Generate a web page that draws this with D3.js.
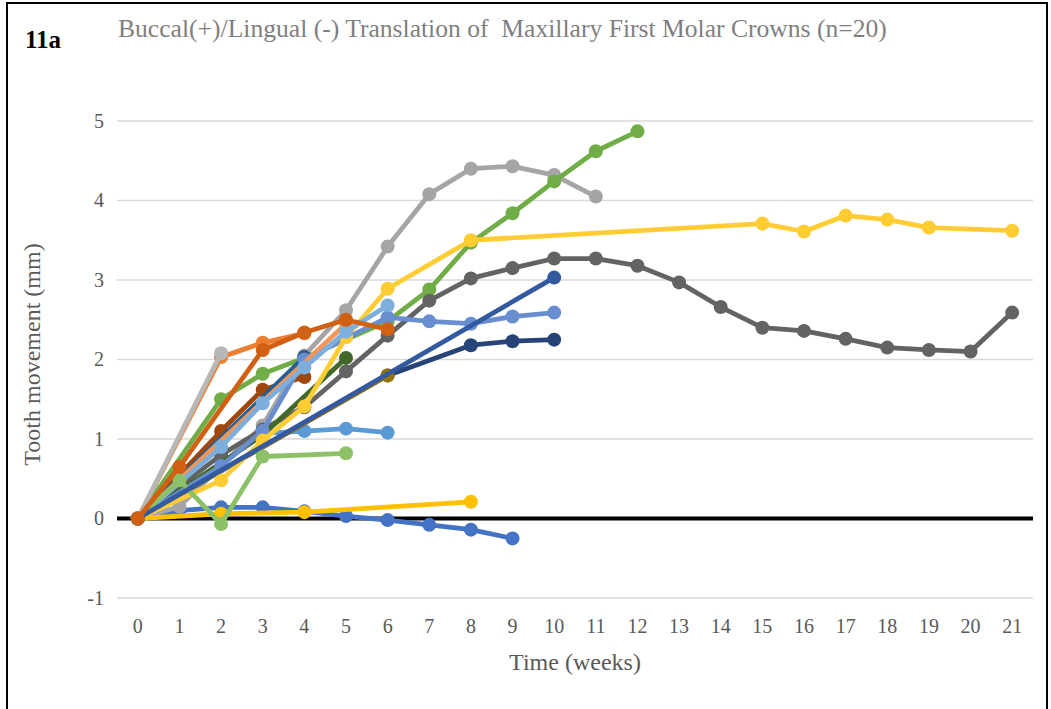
<!DOCTYPE html>
<html>
<head>
<meta charset="utf-8">
<script src="https://cdn.jsdelivr.net/npm/d3@7"></script>
<style>
	body { margin: 0; background: #fff; }
	text { font-family: "Liberation Serif", "DejaVu Serif", serif; }
</style>
</head>
<body>
<div id="chart"></div>
<script>
var weeks = d3.range(0, 22);
var yTicks = [-1, 0, 1, 2, 3, 4, 5];

// one array per crown, value per week, null = not measured
var s01 = [0, 0.1, 0.14, 0.14, 0.09, 0.03, -0.02, -0.08, -0.14, -0.25];
var s02 = [0, null, 2.03, 2.21, 2.33];
var s03 = [0, 0.15, null, 1.17, 2.05, 2.62, 3.42, 4.08, 4.4, 4.43, 4.32, 4.05];
var s04 = [0, null, 0.06, null, 0.08, null, null, null, 0.21];
var s05 = [0, 0.3, null, 1.07, 1.1, 1.13, 1.08];
var s06 = [0, null, 1.5, 1.82, 2.02, null, 2.48, 2.88, 3.47, 3.84, 4.24, 4.62, 4.87];
var s07 = [0, null, null, null, null, null, 1.8, null, 2.18, 2.23, 2.25];
var s08 = [0, null, 1.1, 1.62, 1.78];
var s09 = [0, null, 0.8, 1.12, 1.4, 1.85, 2.3, 2.74, 3.02, 3.15, 3.27, 3.27, 3.18, 2.97, 2.66, 2.4, 2.36, 2.26, 2.15, 2.12, 2.1, 2.59];
var s10 = [0, null, null, null, null, null, 1.8];
var s11 = [0, null, null, null, 2.03];
var s12 = [0, null, null, 1.05, null, 2.02];
var s13 = [0, null, 0.66, 1.1, 2.0, null, 2.53, 2.48, 2.45, 2.54, 2.59];
var s14 = [0, null, null, null, null, 2.45];
var s15 = [0, null, 2.08];
var s16 = [0, null, 0.48, 0.98, 1.41, 2.28, 2.89, null, 3.5, null, null, null, null, null, null, 3.71, 3.61, 3.81, 3.76, 3.66, null, 3.62];
var s17 = [0, null, 0.9, 1.45, 1.9, 2.35, 2.68];
var s18 = [0, 0.48, -0.07, 0.78, null, 0.82];
var s19 = [0, null, null, null, null, null, null, null, null, null, 3.03];
var s20 = [0, 0.65, null, 2.12, 2.34, 2.5, 2.38];

var series = [s01, s02, s03, s04, s05, s06, s07, s08, s09, s10,
	s11, s12, s13, s14, s15, s16, s17, s18, s19, s20];
var colors = ["#4472C4", "#ED7D31", "#A5A5A5", "#FFC000", "#5B9BD5", "#70AD47",
	"#264478", "#9E480E", "#636363", "#997300", "#255E91", "#43682B",
	"#698ED0", "#F1975A", "#B7B7B7", "#FFCD33", "#7CAFDD", "#8CC168",
	"#335AA1", "#D26012"];

var W = 1051, H = 709;
var pLeft = 117, pRight = 1033, pTop = 121, pBottom = 598;

var svg = d3.select("#chart").append("svg")
	.attr("width", W)
	.attr("height", H);

// frame of the figure
svg.append("rect")
	.attr("x", 7)
	.attr("y", 3)
	.attr("width", 1040)
	.attr("height", 740)
	.attr("fill", "none")
	.attr("stroke", "#000")
	.attr("stroke-width", 2);

var x = d3.scaleBand().domain(weeks).range([pLeft, pRight]);
var y = d3.scaleLinear().domain([-1, 5]).range([pBottom, pTop]);
var cx = function(w) { return x(w) + x.bandwidth() / 2; };

// gridlines
svg.append("g")
	.selectAll("line")
	.data(yTicks.filter(function(t) { return t != 0; }))
	.enter().append("line")
	.attr("x1", pLeft)
	.attr("x2", pRight)
	.attr("y1", function(d) { return y(d); })
	.attr("y2", function(d) { return y(d); })
	.attr("stroke", "#d9d9d9")
	.attr("stroke-width", 1.5);

// y axis
var yAxis = svg.append("g")
	.attr("transform", "translate(" + (pLeft - 10) + ",0)")
	.call(d3.axisLeft(y).tickValues(yTicks).tickSize(0).tickFormat(function(d) { return String(d); }));
yAxis.select(".domain").remove();
yAxis.selectAll("text")
	.attr("fill", "#595959")
	.style("font-size", "20px")
	.attr("x", -3);

// x axis
var xAxis = svg.append("g")
	.attr("transform", "translate(0," + (pBottom + 18) + ")")
	.call(d3.axisBottom(x).tickSize(0));
xAxis.select(".domain").remove();
xAxis.selectAll("text")
	.attr("fill", "#595959")
	.style("font-size", "20px");

// zero line
svg.append("line")
	.attr("x1", pLeft)
	.attr("x2", pRight)
	.attr("y1", y(0))
	.attr("y2", y(0))
	.attr("stroke", "#000")
	.attr("stroke-width", 4);

var line = d3.line()
	.x(function(d) { return cx(d.w); })
	.y(function(d) { return y(d.v); });

series.forEach(function(s, i) {
	var pts = [];
	s.forEach(function(v, w) {
		if (v != null) pts.push({w: w, v: v});
	});
	var g = svg.append("g");
	g.append("path")
		.datum(pts)
		.attr("d", line)
		.attr("fill", "none")
		.attr("stroke", colors[i])
		.attr("stroke-width", 4.8)
		.attr("stroke-linejoin", "round");
	g.selectAll("circle")
		.data(pts)
		.enter().append("circle")
		.attr("cx", function(d) { return cx(d.w); })
		.attr("cy", function(d) { return y(d.v); })
		.attr("r", 7)
		.attr("fill", colors[i]);
});

// texts
svg.append("text")
	.attr("x", 25)
	.attr("y", 48)
	.style("font-size", "25px")
	.style("font-weight", "bold")
	.attr("fill", "#000")
	.text("11a");

svg.append("text")
	.attr("x", 118)
	.attr("y", 37)
	.style("font-size", "25.6px")
	.attr("fill", "#7f7f7f")
	.style("white-space", "pre")
	.text("Buccal(+)/Lingual (-) Translation of  Maxillary First Molar Crowns (n=20)");

svg.append("text")
	.attr("x", (pLeft + pRight) / 2)
	.attr("y", 670)
	.attr("text-anchor", "middle")
	.style("font-size", "24px")
	.attr("fill", "#595959")
	.text("Time (weeks)");

svg.append("text")
	.attr("transform", "translate(40," + ((pTop + pBottom) / 2 - 5) + ") rotate(-90)")
	.attr("text-anchor", "middle")
	.style("font-size", "24px")
	.attr("fill", "#595959")
	.text("Tooth movement (mm)");
</script>
</body>
</html>
